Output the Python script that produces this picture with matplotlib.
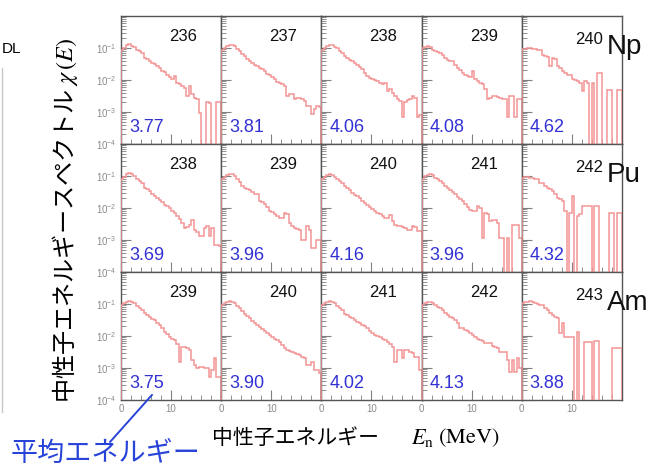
import numpy as np
import matplotlib
matplotlib.use('Agg')
import matplotlib.pyplot as plt
from matplotlib.lines import Line2D
from matplotlib.ticker import LogLocator, MultipleLocator, NullFormatter

plt.rcParams['font.family'] = ['Liberation Sans', 'Noto Sans CJK JP', 'DejaVu Sans']
plt.rcParams['mathtext.fontset'] = 'stix'

# energy bins (MeV), 0.5 MeV wide
edges = np.arange(0, 20.01, 0.5)
Z = None  # empty bin

elements = ['Np', 'Pu', 'Am']
masses = [[236, 237, 238, 239, 240],
          [238, 239, 240, 241, 242],
          [239, 240, 241, 242, 243]]
mean_energy = [['3.77', '3.81', '4.06', '4.08', '4.62'],
               ['3.69', '3.96', '4.16', '3.96', '4.32'],
               ['3.75', '3.90', '4.02', '4.13', '3.88']]

# log10 chi(E), one value per bin
np236 = [-1.05, -1.0, -0.92, -0.88, -0.93, -0.98, -1.05, -1.1, -1.16, -1.3,
         -1.34, -1.4, -1.47, -1.5, -1.57, -1.62, -1.73, -1.76, -1.83, -1.9,
         -1.98, -1.88, -2.09, -2.12, -2.18, -2.24, -2.5, -2.2, -2.45, -2.55,
         -2.6, -3.02, Z, Z, -2.7, -2.72, Z, Z, -2.7, -2.7]
np237 = [-1.05, -1.0, -0.93, -0.9, -0.92, -0.95, -1.02, -1.08, -1.18, -1.24,
         -1.33, -1.4, -1.47, -1.52, -1.57, -1.62, -1.67, -1.72, -1.8, -1.85,
         -1.92, -1.98, -2.05, -2.1, -2.14, -2.2, -2.5, -2.45, -2.45, -2.6,
         -2.55, -2.55, -2.6, -2.65, -2.81, -2.81, -3.07, -2.91, -2.81, -2.85]
np238 = [-1.05, -1.0, -0.95, -0.9, -0.92, -0.97, -1.0, -1.08, -1.16, -1.25,
         -1.31, -1.36, -1.42, -1.47, -1.52, -1.6, -1.67, -1.78, -1.88, -1.93,
         -1.98, -2.0, -2.04, -2.1, -2.14, -2.1, -2.35, -2.29, -2.4, -2.5,
         -2.6, -2.65, -3.17, -2.7, -2.62, -2.6, -2.5, -2.55, -3.17, -3.1]
np239 = [-1.0, -0.97, -0.95, -0.97, -1.05, -1.08, -1.12, -1.16, -1.22, -1.3,
         -1.36, -1.4, -1.42, -1.52, -1.62, -1.68, -1.78, -1.83, -1.86, -1.9,
         -1.72, -1.98, -2.02, -2.08, -2.14, -2.29, -2.6, -2.55, -2.5, -2.5,
         -2.52, -2.55, -2.6, -2.6, -3.17, -2.5, -2.5, -3.17, -2.6, -2.6]
np240 = [-1.03, -1.02, -1.0, -1.0, -1.02, -1.03, -1.05, -1.05, -1.21, -1.25,
         -1.28, -1.57, -1.31, -1.35, -1.57, -1.62, -1.72, -1.78, -1.83, -1.85,
         -1.98, -2.0, -2.04, -2.1, -2.35, -2.04, -2.09, Z, -2.09, Z,
         -1.78, -1.78, Z, Z, -2.3, -2.3, Z, Z, -2.3, -2.3]

pu238 = [-1.1, -1.02, -0.95, -0.92, -0.95, -1.0, -1.08, -1.15, -1.22, -1.36,
         -1.4, -1.48, -1.55, -1.62, -1.68, -1.75, -1.82, -1.9, -1.94, -2.0,
         -2.1, -2.15, -2.25, -2.35, -2.47, -2.62, -2.6, -2.52, -2.36, -2.68,
         -2.75, -2.89, -2.89, -2.62, -2.57, -2.89, -2.62, -3.15, -3.15, -3.2]
pu239 = [-1.1, -1.02, -0.97, -0.94, -0.95, -1.0, -1.1, -1.2, -1.3, -1.36,
         -1.4, -1.44, -1.5, -1.55, -1.57, -1.78, -1.8, -1.88, -1.98, -2.1,
         -2.12, -2.2, -2.25, -2.31, -2.31, -2.15, -2.18, -2.47, -2.55, -2.62,
         -2.65, -2.68, -2.99, -2.99, -2.57, -2.68, -3.25, -3.25, -2.99, -2.99]
pu240 = [-1.1, -1.02, -0.97, -0.94, -0.96, -1.02, -1.08, -1.15, -1.22, -1.3,
         -1.36, -1.45, -1.52, -1.58, -1.63, -1.7, -1.78, -1.85, -1.92, -1.96,
         -2.04, -2.1, -2.15, -2.2, -2.25, -2.31, -2.31, -2.22, -2.4, -2.52,
         -2.55, -2.57, -2.6, -2.62, -2.68, -2.68, -2.57, -2.6, -2.73, -2.73]
pu241 = [-1.08, -1.0, -0.96, -0.94, -0.97, -1.05, -1.1, -1.15, -1.21, -1.3,
         -1.38, -1.45, -1.5, -1.57, -1.65, -1.72, -1.78, -1.88, -1.98, -2.05,
         -2.08, -2.1, -1.94, -2.0, -2.94, -2.15, -2.2, -2.41, -2.38, -2.36,
         -2.47, -2.94, -2.94, Z, -2.94, Z, -2.52, -2.52, -2.52, -2.94]
pu242 = [-1.05, -1.04, -1.04, -1.05, -1.06, -1.08, -1.1, -1.21, -1.21, -1.3,
         -1.36, -1.42, -1.47, -1.55, -1.68, -1.72, -1.78, -2.1, Z, -2.15,
         -1.63, Z, -2.26, -2.2, -1.94, -1.94, -1.94, -1.94, Z, -1.94,
         -1.94, Z, Z, Z, Z, -2.15, -2.15, Z, -2.15, -2.15]

am239 = [-1.03, -0.98, -0.94, -0.91, -0.93, -0.98, -1.05, -1.13, -1.2, -1.28,
         -1.34, -1.42, -1.47, -1.5, -1.58, -1.66, -1.75, -1.86, -1.95, -2.02,
         -2.08, -2.13, -2.25, -2.8, -2.33, -2.35, -2.38, -2.44, -2.75, -2.9,
         -3.0, -2.98, -2.96, -3.0, -3.0, -3.27, -3.06, -2.7, -3.27, -3.27]
am240 = [-1.03, -0.98, -0.93, -0.91, -0.93, -0.98, -1.05, -1.13, -1.22, -1.3,
         -1.38, -1.45, -1.52, -1.58, -1.65, -1.71, -1.78, -1.84, -1.9, -1.96,
         -2.02, -2.08, -2.14, -2.2, -2.28, -2.36, -2.44, -2.47, -2.49, -2.52,
         -2.56, -2.6, -2.65, -2.7, -2.9, -2.9, -2.8, -3.06, -3.06, -3.17]
am241 = [-1.03, -0.98, -0.93, -0.91, -0.93, -0.98, -1.05, -1.13, -1.2, -1.3,
         -1.34, -1.4, -1.45, -1.5, -1.55, -1.6, -1.65, -1.7, -1.76, -1.84,
         -1.92, -1.96, -2.0, -2.02, -2.08, -2.14, -2.18, -2.25, -2.33, -2.8,
         -2.44, -2.44, -2.7, -2.44, -2.44, -2.49, -2.52, -2.65, -2.65, -3.06]
am242 = [-1.03, -0.98, -0.93, -0.93, -0.98, -1.03, -1.08, -1.13, -1.2, -1.28,
         -1.34, -1.4, -1.45, -1.5, -1.6, -1.76, -1.76, -1.81, -1.85, -1.92,
         -1.98, -2.02, -2.08, -2.13, -2.16, -2.21, -2.22, -2.23, -2.3, -2.35,
         -2.39, -2.49, -2.49, -2.49, -2.75, -3.11, -2.75, -3.11, -2.7, -3.01]
am243 = [-0.98, -0.95, -0.93, -0.91, -0.95, -0.98, -1.0, -1.02, -1.03, -1.13,
         -1.2, -1.29, -1.35, -1.4, -1.45, -1.92, -1.6, -2.02, -2.02, -2.02,
         -2.02, Z, -1.86, Z, Z, -2.18, -2.18, -2.18, Z, -2.15,
         -2.15, Z, Z, Z, Z, Z, -2.37, -2.37, -2.37, -2.37]

spectra = [[np236, np237, np238, np239, np240],
           [pu238, pu239, pu240, pu241, pu242],
           [am239, am240, am241, am242, am243]]

RED = '#f29494'
BLUE = '#3232d4'
FLOOR = 1e-7
CJK = ['Noto Sans CJK JP', 'DejaVu Sans']

fig, axes = plt.subplots(3, 5, figsize=(6.49, 4.69), dpi=100, sharex=True, sharey=True)
fig.subplots_adjust(left=0.1864, right=0.9584, top=0.9659, bottom=0.1471,
                    wspace=0, hspace=0)

for i in range(3):
    for j in range(5):
        ax = axes[i, j]
        logv = np.array([np.nan if v is None else v for v in spectra[i][j]], dtype=float)
        chi = np.where(np.isnan(logv), FLOOR, 10.0 ** np.nan_to_num(logv))
        ax.stairs(chi, edges, baseline=FLOOR, color=RED, lw=1.1, zorder=3)

        ax.set_yscale('log')
        ax.set_ylim(1e-4, 1)
        ax.set_xlim(0, 20)
        ax.set_yticks([1e-4, 1e-3, 1e-2, 1e-1])
        ax.yaxis.set_minor_locator(LogLocator(base=10, subs=np.arange(2, 10)))
        ax.yaxis.set_minor_formatter(NullFormatter())
        ax.set_xticks([0, 10])
        ax.xaxis.set_minor_locator(MultipleLocator(2))
        ax.tick_params(which='both', direction='in', color='#808080',
                       labelcolor='#8a8a8a', labelsize=7, pad=3,
                       top=False, right=False)
        ax.tick_params(which='major', length=7, width=0.8)
        ax.tick_params(which='minor', length=3.5, width=0.6)
        for sp in ax.spines.values():
            sp.set_color('#555555')
            sp.set_linewidth(1.0)

        if j < 4:
            ax.text(0.62, 0.84, str(masses[i][j]), transform=ax.transAxes,
                    ha='center', va='center', fontsize=12, color='#111111')
        else:
            ax.text(0.67, 0.82, str(masses[i][j]), transform=ax.transAxes,
                    ha='center', va='center', fontsize=12, color='#111111')
            ax.text(0.85, 0.70, elements[i], transform=ax.transAxes,
                    ha='left', va='baseline', fontsize=20, color='#111111',
                    clip_on=False)
        ax.text(0.08, 0.13, mean_energy[i][j], transform=ax.transAxes,
                ha='left', va='center', fontsize=13, color=BLUE)

# axis titles
fig.text(65 / 649, 1 - 221 / 469, '中性子エネルギースペクトル $\\chi\\,(E)$',
         rotation=90, ha='center', va='center', fontsize=17.4, family=CJK)
fig.text(212 / 649, 1 - 438 / 469, '中性子エネルギー',
         ha='left', va='center', fontsize=15, family=CJK)
fig.text(411 / 649, 1 - 438 / 469, '$E_\\mathrm{n}$',
         ha='left', va='center', fontsize=16)
fig.text(438 / 649, 1 - 438 / 469, '$\\mathrm{(MeV)}$',
         ha='left', va='center', fontsize=16)

# mean energy annotation
fig.text(11 / 649, 1 - 453 / 469, '平均エネルギー', ha='left', va='center',
         fontsize=19.5, color='#2844d8', family=CJK)
axes[2, 0].annotate('', xy=(6.2, 1.45e-4), xycoords='data',
                    xytext=(110 / 649, 1 - 442 / 469), textcoords='figure fraction',
                    arrowprops=dict(arrowstyle='-', color='#2844d8', lw=1.4,
                                    shrinkA=0, shrinkB=0))

# remnant of neighbouring panel
fig.text(2 / 649, 1 - 49 / 469, 'DL', ha='left', va='center', fontsize=11)
fig.add_artist(Line2D([2 / 649, 2 / 649], [1 - 68 / 469, 1 - 412 / 469],
                      color='#c8c8c8', lw=1.0))

fig.savefig('out.png', dpi=100)
